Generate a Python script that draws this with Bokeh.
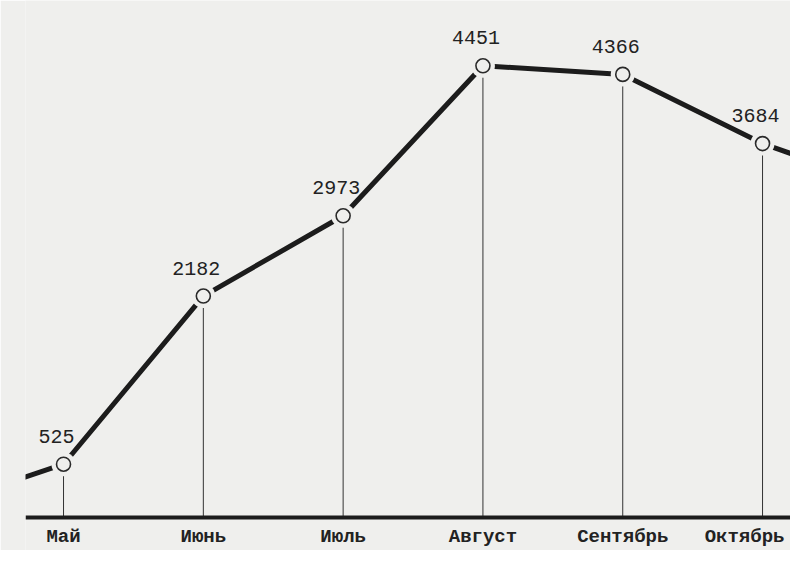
from bokeh.plotting import figure
from bokeh.models import Range1d, ColumnDataSource, Span
from bokeh.core.properties import value
from bokeh.embed import file_html
from bokeh.resources import INLINE

# --- data ---
months = ["Май", "Июнь", "Июль", "Август", "Сентябрь", "Октябрь"]
values = [525, 2182, 2973, 4451, 4366, 3684]
# neighbouring months, only partly visible at the chart edges (estimated)
prev_value = 60     # Апрель
next_value = 3200   # Ноябрь

idx = list(range(len(months)))
line_x = [-1] + idx + [len(months)]
line_y = [prev_value] + values + [next_value]

BG = "#efefed"
INK = "#1c1c1c"

p = figure(width=790, height=550, output_backend="svg", toolbar_location=None,
           x_range=Range1d(-0.272, 5.2), y_range=Range1d(-325, 5094),
           background_fill_color=BG, border_fill_color=BG,
           min_border_left=25, min_border_right=0, min_border_top=0,
           min_border_bottom=0)
p.outline_line_color = None
p.grid.visible = False
p.axis.visible = False

# keep the last month label inside the picture
label_shift = [0] * (len(months) - 1) + [-18]

src = ColumnDataSource(dict(x=idx, y=values, zero=[0] * len(values),
                            lab=[str(v) for v in values], month=months,
                            shift=label_shift))

# baseline (value axis zero)
p.add_layout(Span(location=0, dimension="width", line_color=INK, line_width=4))

# thin vertical drop lines
p.segment(x0="x", y0="zero", x1="x", y1="y", source=src,
          line_color="#333333", line_width=1)

# thick connecting line
p.line(line_x, line_y, line_color=INK, line_width=5, line_cap="round")

# halo to create the gap round each marker, then the open circle
p.scatter("x", "y", source=src, size=24, fill_color=BG, line_color=None)
p.scatter("x", "y", source=src, size=14, fill_color=BG,
          line_color="#2a2a2a", line_width=1.6)

# value labels
p.text("x", "y", text="lab", source=src, x_offset=-7, y_offset=-28,
       text_align="center", text_baseline="middle",
       text_font=value("Liberation Mono"), text_font_size="20px",
       text_color="#222222")

# month labels below the baseline
p.text("x", "zero", text="month", source=src, x_offset="shift", y_offset=19,
       text_align="center", text_baseline="middle",
       text_font=value("Liberation Mono"), text_font_style="bold",
       text_font_size="19px", text_color="#222222")

open("out.html", "w").write(file_html(p, INLINE))
